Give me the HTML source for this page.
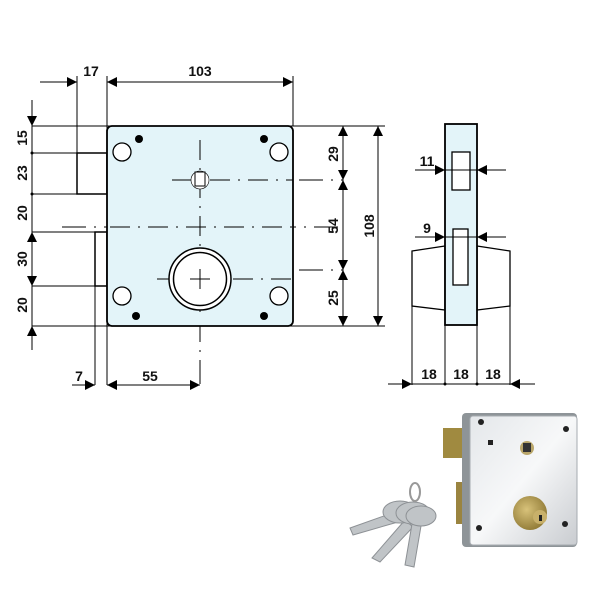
<!DOCTYPE html>
<html><head><meta charset="utf-8"><style>html,body{margin:0;padding:0;background:#fff}svg{display:block}text{font-family:"Liberation Sans",sans-serif;font-weight:bold;font-size:14px;fill:#111}</style></head><body>
<svg width="600" height="600" viewBox="0 0 600 600" xmlns="http://www.w3.org/2000/svg">
<defs>
<marker id="a" viewBox="0 0 10 10" refX="10" refY="5" markerWidth="15" markerHeight="10" markerUnits="userSpaceOnUse" orient="auto-start-reverse"><path d="M0,0L10,5L0,10z" fill="#000"/></marker>
<linearGradient id="g" x1="0" y1="0" x2="1" y2="1"><stop offset="0" stop-color="#e4e7ea"/><stop offset=".5" stop-color="#f7f8f9"/><stop offset="1" stop-color="#c9ccd0"/></linearGradient>
<radialGradient id="b" cx=".4" cy=".4" r=".7"><stop offset="0" stop-color="#d8c27a"/><stop offset="1" stop-color="#8a7430"/></radialGradient>
</defs>
<g stroke="#000" stroke-width="1" fill="none">
<line x1="77" y1="76" x2="77" y2="153"/><line x1="107" y1="76" x2="107" y2="385"/><line x1="293" y1="76" x2="293" y2="126"/>
<line x1="95" y1="286" x2="95" y2="385"/>
<line x1="32" y1="126" x2="385" y2="126"/><line x1="32" y1="326" x2="385" y2="326"/>
<line x1="32" y1="153" x2="77" y2="153"/><line x1="32" y1="194" x2="77" y2="194"/>
<line x1="32" y1="232" x2="95" y2="232"/><line x1="32" y1="286" x2="95" y2="286"/>
<line x1="215" y1="180" x2="343" y2="180" stroke-dasharray="24,8,2,8"/>
<line x1="215" y1="270" x2="343" y2="270" stroke-dasharray="24,8,2,8"/>
<line x1="62" y1="227" x2="340" y2="227" stroke-dasharray="24,8,2,8"/>
<line x1="200" y1="150" x2="200" y2="385" stroke-dasharray="24,8,2,8"/>
<line x1="40" y1="82" x2="77" y2="82" marker-end="url(#a)"/>
<line x1="107" y1="82" x2="293" y2="82" marker-start="url(#a)" marker-end="url(#a)"/>
<line x1="72" y1="385" x2="95" y2="385" marker-end="url(#a)"/>
<line x1="107" y1="385" x2="200" y2="385" marker-start="url(#a)" marker-end="url(#a)"/>
<line x1="32" y1="100" x2="32" y2="126" marker-end="url(#a)"/>
<line x1="32" y1="126" x2="32" y2="232"/>
<line x1="32" y1="232" x2="32" y2="286" marker-start="url(#a)" marker-end="url(#a)"/>
<line x1="32" y1="286" x2="32" y2="326"/>
<line x1="32" y1="350" x2="32" y2="326" marker-end="url(#a)"/>
<line x1="343" y1="126" x2="343" y2="180" marker-start="url(#a)" marker-end="url(#a)"/>
<line x1="343" y1="180" x2="343" y2="270" marker-start="url(#a)" marker-end="url(#a)"/>
<line x1="343" y1="270" x2="343" y2="326" marker-start="url(#a)" marker-end="url(#a)"/>
<line x1="378" y1="126" x2="378" y2="326" marker-start="url(#a)" marker-end="url(#a)"/>
</g>
<g fill="#000"><circle cx="32" cy="153" r="1.5"/><circle cx="32" cy="194" r="1.5"/></g>
<rect x="77" y="153" width="30" height="41" fill="#fff" stroke="#000" stroke-width="1.5"/>
<rect x="95" y="232" width="12" height="54" fill="#fff" stroke="#000" stroke-width="1.5"/>
<rect x="107" y="126" width="186" height="200" rx="5" fill="#e3f4f9" stroke="#000" stroke-width="1.8"/>
<line x1="200" y1="140" x2="200" y2="320" stroke="#000" stroke-dasharray="20,8,2,8"/>
<line x1="172" y1="180" x2="293" y2="180" stroke="#000" stroke-dasharray="20,8,2,8"/>
<line x1="110" y1="227" x2="293" y2="227" stroke="#000" stroke-dasharray="20,8,2,8"/>
<line x1="157" y1="279" x2="293" y2="279" stroke="#000" stroke-dasharray="20,8,2,8"/>
<g fill="#fff" stroke="#000" stroke-width="1.3">
<circle cx="122" cy="152" r="9"/><circle cx="279" cy="152" r="9"/><circle cx="122" cy="296" r="9"/><circle cx="279" cy="296" r="9"/>
<circle cx="200" cy="180" r="9" stroke-width="0.6"/><rect x="195" y="172" width="10" height="14" stroke-width="1"/>
<circle cx="200" cy="279" r="31" stroke-width="1.5"/><circle cx="200" cy="279" r="26.5" stroke-width="1.5"/>
</g>
<line x1="190" y1="279" x2="210" y2="279" stroke="#000"/><line x1="200" y1="269" x2="200" y2="289" stroke="#000"/>
<g fill="#000"><circle cx="139" cy="139" r="4"/><circle cx="264" cy="139" r="4"/><circle cx="136" cy="316" r="4"/><circle cx="264" cy="316" r="4"/></g>
<text x="91" y="76" text-anchor="middle">17</text>
<text x="200" y="76" text-anchor="middle">103</text>
<text x="79" y="381" text-anchor="middle">7</text>
<text x="150" y="381" text-anchor="middle">55</text>
<g text-anchor="middle">
<text transform="translate(27,138) rotate(-90)">15</text>
<text transform="translate(27,173) rotate(-90)">23</text>
<text transform="translate(27,213) rotate(-90)">20</text>
<text transform="translate(27,259) rotate(-90)">30</text>
<text transform="translate(27,305) rotate(-90)">20</text>
<text transform="translate(338,154) rotate(-90)">29</text>
<text transform="translate(338,226) rotate(-90)">54</text>
<text transform="translate(338,298) rotate(-90)">25</text>
<text transform="translate(374,226) rotate(-90)">108</text>
</g>
<g stroke="#000" stroke-width="1.3">
<polygon points="412,251 445,246 445,310 412,306" fill="#fff"/>
<polygon points="510,251 477,246 477,310 510,306" fill="#fff"/>
<rect x="445" y="124" width="32" height="201" fill="#e3f4f9" stroke-width="1.8"/>
<rect x="452" y="152" width="18" height="38" fill="#fff"/>
<rect x="453" y="229" width="15" height="56" fill="#fff"/>
</g>
<g stroke="#000" stroke-width="1" fill="none">
<line x1="415" y1="170" x2="505" y2="170"/><line x1="415" y1="237" x2="505" y2="237"/>
<line x1="415" y1="170" x2="445" y2="170" marker-end="url(#a)"/><line x1="506" y1="170" x2="477" y2="170" marker-end="url(#a)"/>
<line x1="415" y1="237" x2="445" y2="237" marker-end="url(#a)"/><line x1="506" y1="237" x2="477" y2="237" marker-end="url(#a)"/>
<line x1="412" y1="306" x2="412" y2="385"/><line x1="445" y1="325" x2="445" y2="385"/><line x1="477" y1="325" x2="477" y2="385"/><line x1="510" y1="306" x2="510" y2="385"/>
<line x1="388" y1="384" x2="412" y2="384" marker-end="url(#a)"/><line x1="412" y1="384" x2="510" y2="384"/><line x1="535" y1="384" x2="510" y2="384" marker-end="url(#a)"/>
</g>
<circle cx="445" cy="384" r="1.5"/><circle cx="477" cy="384" r="1.5"/>
<text x="427" y="166" text-anchor="middle">11</text>
<text x="427" y="233" text-anchor="middle">9</text>
<text x="429" y="379" text-anchor="middle">18</text>
<text x="461" y="379" text-anchor="middle">18</text>
<text x="493" y="379" text-anchor="middle">18</text>
<rect x="443" y="428" width="22" height="30" fill="#a08a40"/>
<rect x="456" y="482" width="8" height="42" fill="#9a8440"/>
<rect x="462" y="413" width="115" height="134" rx="4" fill="#8e9498"/>
<rect x="470" y="416" width="107" height="129" rx="3" fill="url(#g)" stroke="#a6abb0"/>
<g fill="#222"><circle cx="481" cy="422" r="3"/><circle cx="566" cy="429" r="3"/><circle cx="479" cy="528" r="3"/><circle cx="565" cy="524" r="3"/><rect x="488" y="440" width="5" height="5"/></g>
<circle cx="527" cy="448" r="7" fill="#b9a66a"/><rect x="523" y="443" width="8" height="9" fill="#333"/>
<circle cx="530" cy="513" r="17" fill="url(#b)"/><circle cx="540" cy="517" r="7" fill="#c8b06a"/><rect x="539" y="515" width="3" height="6" fill="#222"/>
<g fill="#c0c4c7" stroke="#8d9195">
<path d="M350,528 L395,512 L398,522 L353,535 Z"/>
<path d="M372,558 L405,520 L413,527 L380,562 Z"/>
<path d="M405,565 L412,524 L421,526 L414,567 Z"/>
<ellipse cx="400" cy="512" rx="17" ry="11"/>
<ellipse cx="413" cy="513" rx="17" ry="11"/>
<ellipse cx="421" cy="516" rx="15" ry="10"/>
</g>
<ellipse cx="415" cy="492" rx="5" ry="9" fill="none" stroke="#999" stroke-width="2"/>
</svg>
</body></html>
